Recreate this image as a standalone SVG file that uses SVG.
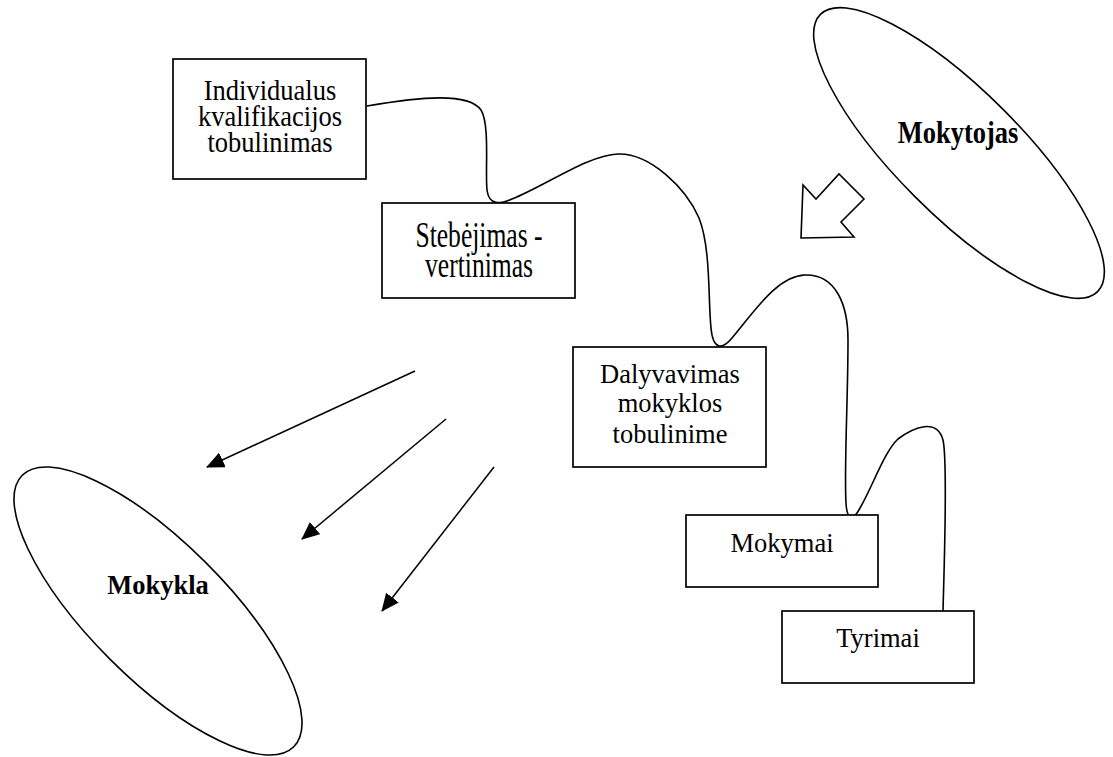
<svg xmlns="http://www.w3.org/2000/svg" width="1113" height="757" viewBox="0 0 1113 757">
  <style>
    .box { fill: #fff; stroke: #000; stroke-width: 1.7; }
    .oval { fill: none; stroke: #000; stroke-width: 1.6; }
    .lbl { font-family: "Liberation Serif", "Times New Roman", serif; font-size: 26.5px; fill: #000; text-anchor: middle; }
    .bold { font-weight: bold; }
    .wire { fill: none; stroke: #000; stroke-width: 1.6; stroke-linecap: round; }
    .ray { fill: none; stroke: #000; stroke-width: 1.5; }
  </style>
  <defs>
    <marker id="head" markerUnits="userSpaceOnUse" markerWidth="18" markerHeight="16" viewBox="0 0 18 16" refX="17" refY="8" orient="auto">
      <path d="M0,0 L18,8 L0,16 Z" fill="#000"/>
    </marker>
  </defs>

  <rect width="1113" height="757" fill="#fff"/>

  <!-- winding connector linking the activity boxes -->
  <g id="connectors">
    <path class="wire" d="M367,106 C420,97 468,92 481,110 C490,124 485,172 487,190 C489,206 500,204 512,199 C545,186 588,155 618,154 C650,153 686,188 699,218 C711,248 708,300 711,328 C713,350 722,350 732,338 C752,315 776,276 805,275 C836,274 848,305 848,340 C848,400 844,468 846,503 C847,521 853,521 860,508 C872,488 884,452 898,439 C914,427 937,418 943,440 C948,462 944,570 943,611"/>
    <!-- straight arrows pointing to the school -->
    <line class="ray" x1="415" y1="371" x2="207" y2="467" marker-end="url(#head)"/>
    <line class="ray" x1="446" y1="419" x2="302" y2="539" marker-end="url(#head)"/>
    <line class="ray" x1="494" y1="467" x2="382" y2="611" marker-end="url(#head)"/>
    <!-- hollow block arrow from the teacher -->
    <polygon points="801,238 803,185 816,199 839,174 864,199 841,222 854,237" fill="#fff" stroke="#000" stroke-width="1.6" stroke-linejoin="miter"/>
  </g>

  <g id="individualus">
    <rect class="box" x="173" y="59" width="193" height="120"/>
    <text class="lbl" transform="translate(270,100) scale(1,1.13)">Individualus</text>
    <text class="lbl" transform="translate(270,125.5) scale(1,1.13)">kvalifikacijos</text>
    <text class="lbl" transform="translate(270,151.5) scale(1,1.13)">tobulinimas</text>
  </g>

  <g id="stebejimas">
    <rect class="box" x="382" y="203" width="193" height="95"/>
    <text class="lbl" style="font-size:25.6px" transform="translate(479,246.7) scale(1,1.42)">Stebėjimas -</text>
    <text class="lbl" style="font-size:25.6px" transform="translate(479,276.7) scale(1,1.42)">vertinimas</text>
  </g>

  <g id="dalyvavimas">
    <rect class="box" x="573" y="347" width="193" height="120"/>
    <text class="lbl" x="670" y="382.7">Dalyvavimas</text>
    <text class="lbl" x="670" y="412">mokyklos</text>
    <text class="lbl" x="670" y="443">tobulinime</text>
  </g>

  <g id="mokymai">
    <rect class="box" x="686" y="515" width="192" height="72"/>
    <text class="lbl" x="782" y="551.5">Mokymai</text>
  </g>

  <g id="tyrimai">
    <rect class="box" x="782" y="611" width="192" height="72"/>
    <text class="lbl" x="878" y="646.7">Tyrimai</text>
  </g>

  <g id="mokytojas">
    <ellipse class="oval" cx="959" cy="153" rx="196" ry="62" transform="rotate(45 959 153)"/>
    <text class="lbl bold" transform="translate(958,143) scale(1,1.18)">Mokytojas</text>
  </g>

  <g id="mokykla">
    <ellipse class="oval" cx="158" cy="611" rx="192" ry="68" transform="rotate(45 158 611)"/>
    <text class="lbl bold" x="158" y="594.3">Mokykla</text>
  </g>
</svg>
